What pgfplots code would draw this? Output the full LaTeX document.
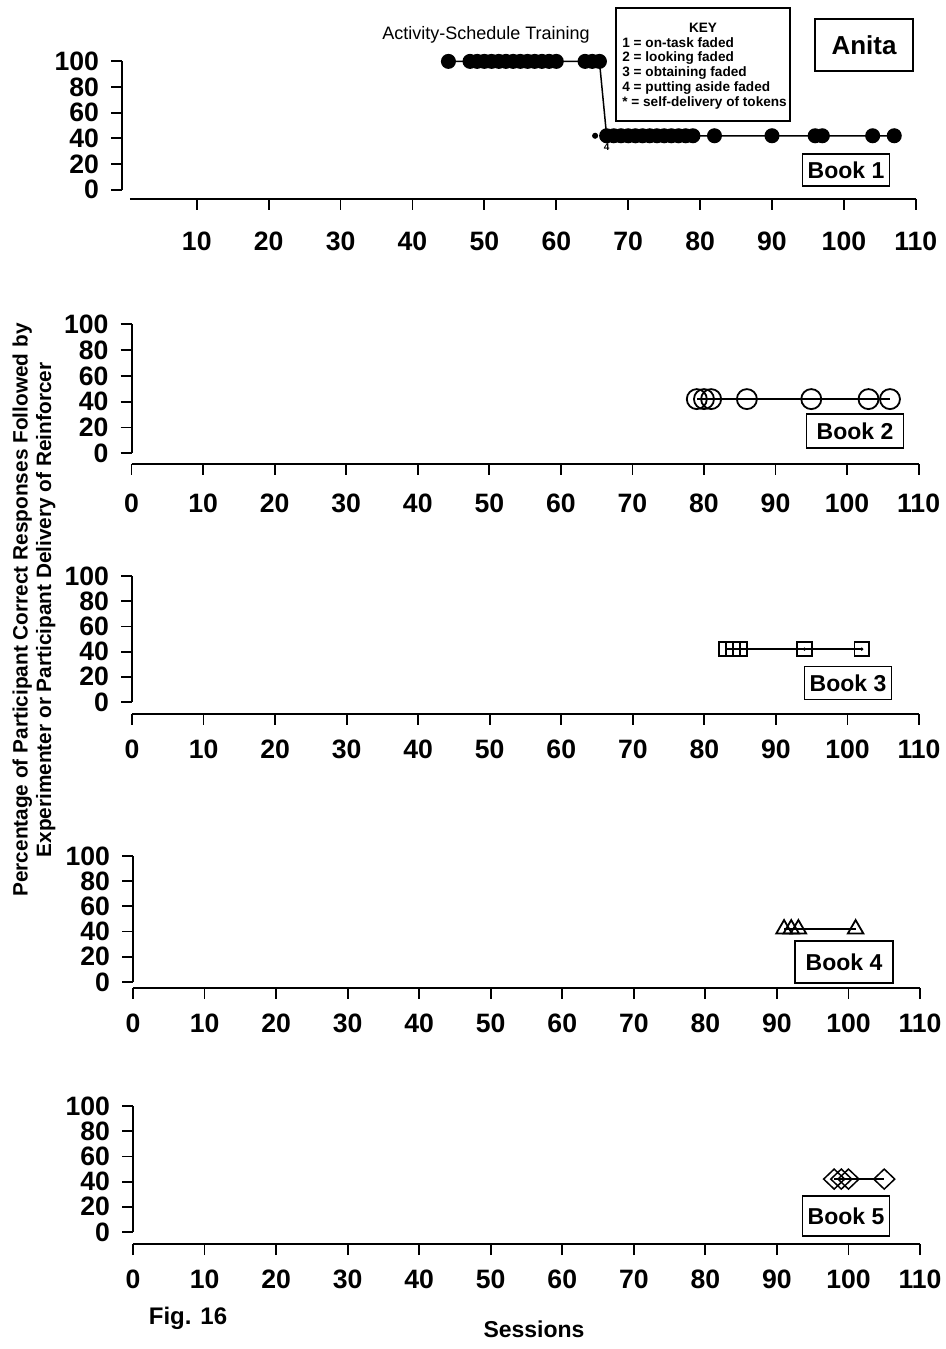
\documentclass[border=0pt]{standalone}
\usepackage{fontspec}
\setmainfont{Liberation Sans}
\usepackage{pgfplots}
\pgfplotsset{compat=1.18}
\begin{document}
\begin{tikzpicture}
\useasboundingbox (0,0) rectangle (473pt,674.5pt);
\pgfplotsset{
 panel/.style={scale only axis, anchor=south west, xmin=0, xmax=110, ymin=-9.5, ymax=100,
  width=393.5pt, height=69pt,
  axis x line*=bottom, axis y line*=left, axis line style={draw=none},
  xtick={0,10,...,110}, ytick={0,20,...,100},
  tick align=outside, major tick length=5.5pt, tick style={black, line width=0.9pt},
  ticklabel style={font=\fontsize{13.3}{15}\selectfont\bfseries},
  /pgf/number format/assume math mode=true,
  xticklabel style={yshift=-4pt},
  yticklabel style={xshift=-2.5pt},
  clip=false},
 dat/.style={black, line width=0.75pt, mark options={solid, line width=0.9pt}}
}
% ---------------- Panel 1
\begin{axis}[panel, at={(61pt,575pt)}, xmin=-0.4, ymin=-7.3, width=396.9pt, height=68.8pt, xtick={10,20,...,110}, xticklabel style={yshift=-3.5pt}]
\addplot[dat, mark=*, mark size=3.3pt] coordinates {
(45,100)(48,100)(49,100)(50,100)(51,100)(52,100)(53,100)(54,100)(55,100)(56,100)(57,100)(58,100)(59,100)(60,100)
(64,100)(65,100)(66,100)
(67,42)(68,42)(69,42)(70,42)(71,42)(72,42)(73,42)(74,42)(75,42)(76,42)(77,42)(78,42)(79,42)
(82,42)(90,42)(96,42)(97,42)(104,42)(107,42)};
\addplot[only marks, mark=*, mark size=1.3pt] coordinates {(65.4,42)};
\node[font=\fontsize{5}{6}\selectfont\bfseries] at (axis cs:67,33) {4};
\draw[line width=1pt] (axis cs:-0.4,0) -- (axis cs:-0.4,100);
\draw[line width=1pt] (axis cs:0.7,-7.3) -- (axis cs:110,-7.3);
\end{axis}
% ---------------- Panel 2
\begin{axis}[panel, at={(65.8pt,442.5pt)}, ymin=-8.3, height=69.85pt, xticklabel style={yshift=-2pt}]
\addplot[dat, mark=o, mark size=5pt] coordinates {(79,42)(80,42)(81,42)(86,42)(95,42)(103,42)(106,42)};
\draw[line width=1pt] (axis cs:0,0) -- (axis cs:0,100);
\draw[line width=1pt] (axis cs:0,-8.3) -- (axis cs:110,-8.3);
\end{axis}
% ---------------- Panel 3
\begin{axis}[panel, at={(66pt,317.5pt)}]
\addplot[dat, mark=square, mark size=3.6pt] coordinates {(83,42)(84,42)(85,42)(94,42)(102,42)};
\addplot[only marks, mark=*, mark size=0.6pt] coordinates {(85,42)(94,42)(102,42)};
\draw[line width=1pt] (axis cs:0,0) -- (axis cs:0,100);
\draw[line width=1pt] (axis cs:0,-9.5) -- (axis cs:110,-9.5);
\end{axis}
% ---------------- Panel 4
\begin{axis}[panel, at={(66.5pt,180.5pt)}, ymin=-4.8, height=66pt]
\addplot[dat, mark=triangle, mark size=4.5pt] coordinates {(91,42)(92,42)(93,42)(101,42)};
\draw[line width=1pt] (axis cs:0,0) -- (axis cs:0,100);
\draw[line width=1pt] (axis cs:0,-4.8) -- (axis cs:110,-4.8);
\end{axis}
% ---------------- Panel 5
\begin{axis}[panel, at={(66.5pt,52.5pt)}]
\addplot[dat, mark=diamond, mark size=5pt, mark options={xscale=1.4}] coordinates {(98,42)(99,42)(100,42)(105,42)};
\draw[line width=1pt] (axis cs:0,0) -- (axis cs:0,100);
\draw[line width=1pt] (axis cs:0,-9.5) -- (axis cs:110,-9.5);
\end{axis}
% ---------------- Annotations
\tikzset{book/.style={draw, line width=0.8pt, font=\fontsize{11.5}{13}\selectfont\bfseries, inner sep=0pt}}
\node[book, minimum width=43.5pt, minimum height=16pt] at (423pt,589.5pt) {Book 1};
\node[book, minimum width=48.5pt, minimum height=17pt] at (427.5pt,459pt) {Book 2};
\node[book, minimum width=43.5pt, minimum height=16.5pt] at (424pt,333pt) {Book 3};
\node[book, minimum width=49pt, minimum height=21pt] at (422pt,193.5pt) {Book 4};
\node[book, minimum width=43.5pt, minimum height=20pt] at (423pt,66.5pt) {Book 5};
\node[draw, line width=0.8pt, minimum width=49pt, minimum height=26pt, inner sep=0pt, font=\fontsize{13}{15}\selectfont\bfseries] at (432pt,652pt) {Anita};
\node[font=\fontsize{9}{11}\selectfont] at (243pt,657pt) {Activity-Schedule Training};
\draw[line width=0.6pt] (308pt,670.5pt) rectangle (395pt,614pt);
\begin{scope}[every node/.style={font=\fontsize{6.8}{8}\selectfont\bfseries, inner sep=0pt}]
\node at (351.5pt,660.5pt) {KEY};
\node[anchor=west] at (311pt,653pt) {1 = on-task faded};
\node[anchor=west] at (311pt,645.5pt) {2 = looking faded};
\node[anchor=west] at (311pt,638pt) {3 = obtaining faded};
\node[anchor=west] at (311pt,630.5pt) {4 = putting aside faded};
\node[anchor=west] at (311pt,623pt) {* = self-delivery of tokens};
\end{scope}
\node[rotate=90, align=center, font=\fontsize{10.4}{11.8}\selectfont\bfseries] at (17pt,369.5pt)
 {Percentage of Participant Correct Responses Followed by\\Experimenter or Participant Delivery of Reinforcer};
\node[font=\fontsize{12}{14}\selectfont\bfseries] at (94pt,15.5pt) {Fig. 16};
\node[font=\fontsize{11.5}{13}\selectfont\bfseries] at (267pt,10pt) {Sessions};
\end{tikzpicture}
\end{document}
